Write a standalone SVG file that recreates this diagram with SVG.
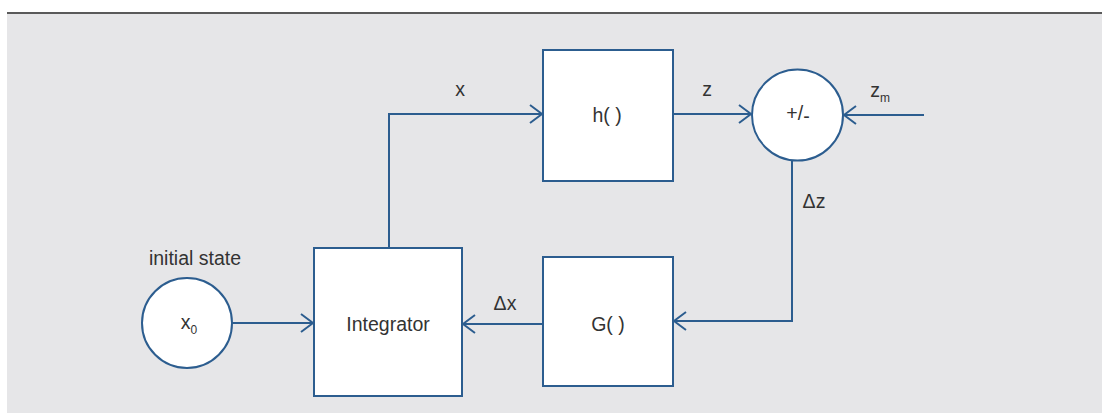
<svg xmlns="http://www.w3.org/2000/svg" width="1102" height="413" viewBox="0 0 1102 413">
<defs>
<style>
.bg{fill:#e6e6e8}
.node{fill:#fff;stroke:#2c5d8f;stroke-width:2}
.wire{fill:none;stroke:#2c5d8f;stroke-width:2}
.t{font-family:"Liberation Sans",Arial,sans-serif;font-size:19.5px;fill:#333;text-anchor:middle}
.sub{font-size:12px}
</style>
<marker id="arr" viewBox="0 0 14 20" refX="13" refY="10" markerWidth="14" markerHeight="20" markerUnits="userSpaceOnUse" orient="auto">
<polyline points="1,1 13,10 1,19" fill="none" stroke="#2c5d8f" stroke-width="2"/>
</marker>
</defs>
<rect class="bg" x="7" y="13" width="1095" height="400"/>
<rect x="7" y="12" width="1095" height="2" fill="#5a5a5a"/>
<g id="connectors">
<path class="wire" d="M389,248 V114 H542" marker-end="url(#arr)"/>
<path class="wire" d="M673,114 H751" marker-end="url(#arr)"/>
<path class="wire" d="M924,115 H844" marker-end="url(#arr)"/>
<path class="wire" d="M792,160 V321 H674" marker-end="url(#arr)"/>
<path class="wire" d="M543,324 H463" marker-end="url(#arr)"/>
<path class="wire" d="M232,323 H313" marker-end="url(#arr)"/>
</g>
<g id="node-h">
<rect class="node" x="543" y="50" width="130" height="131"/>
<text class="t" x="607" y="122">h( )</text>
</g>
<g id="node-sum">
<circle class="node" cx="797.5" cy="115" r="45.5"/>
<text class="t" x="798" y="120">+/<tspan dy="3">-</tspan></text>
</g>
<g id="node-G">
<rect class="node" x="543" y="257" width="130" height="129"/>
<text class="t" x="608" y="331">G( )</text>
</g>
<g id="node-integrator">
<rect class="node" x="314" y="248" width="148" height="148"/>
<text class="t" x="388" y="331">Integrator</text>
</g>
<g id="node-x0">
<circle class="node" cx="187" cy="323" r="45"/>
<text class="t" x="189" y="329">x<tspan class="sub" dy="5">0</tspan></text>
<text class="t" x="195" y="265">initial state</text>
</g>
<g id="labels">
<text class="t" x="460" y="96">x</text>
<text class="t" x="707" y="96">z</text>
<text class="t" x="880" y="97">z<tspan class="sub" dy="5">m</tspan></text>
<text class="t" x="814" y="208">Δz</text>
<text class="t" x="505" y="310">Δx</text>
</g>
</svg>
